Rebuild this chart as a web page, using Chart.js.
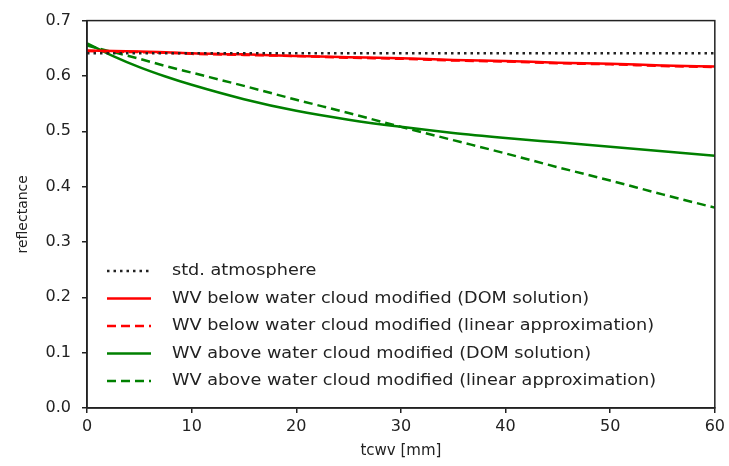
<!DOCTYPE html>
<html>
<head>
<meta charset="utf-8">
<script src="https://cdn.jsdelivr.net/npm/chart.js@4.4.1/dist/chart.umd.min.js"></script>
<style>
  html, body { margin: 0; padding: 0; background: #fff; }
  #wrap { width: 729px; height: 466px; }
</style>
</head>
<body>
<div id="wrap"><canvas id="reflChart"></canvas></div>
<script>
// water vapour column (x axis)
var tcwv = [0, 2.5, 5, 7.5, 10, 15, 20, 25, 30, 35, 40, 45, 50, 55, 60];

// reflectance values
var stdAtmosphere = [0.641, 0.641, 0.641, 0.641, 0.641, 0.641, 0.641, 0.641, 0.641, 0.641, 0.641, 0.641, 0.641, 0.641, 0.641];
var belowDom    = [0.646, 0.645, 0.644, 0.643, 0.641, 0.639, 0.636, 0.634, 0.632, 0.629, 0.627, 0.624, 0.622, 0.619, 0.617];
var belowLinear = [0.645, 0.644, 0.643, 0.642, 0.640, 0.638, 0.636, 0.633, 0.631, 0.628, 0.626, 0.623, 0.621, 0.618, 0.616];
var aboveDom    = [0.659, 0.636, 0.616, 0.599, 0.584, 0.558, 0.537, 0.521, 0.508, 0.497, 0.488, 0.480, 0.472, 0.464, 0.456];
var aboveLinear = [0.655, 0.643, 0.631, 0.618, 0.606, 0.582, 0.557, 0.533, 0.508, 0.484, 0.460, 0.435, 0.411, 0.386, 0.362];

var xTicks = [0, 10, 20, 30, 40, 50, 60];
var yTicks = [0.0, 0.1, 0.2, 0.3, 0.4, 0.5, 0.6, 0.7];

var labels = [
  'std. atmosphere',
  'WV below water cloud modified (DOM solution)',
  'WV below water cloud modified (linear approximation)',
  'WV above water cloud modified (DOM solution)',
  'WV above water cloud modified (linear approximation)'
];

function pts(ys) {
  var out = [];
  for (var i = 0; i < tcwv.length; i++) out.push({x: tcwv[i], y: ys[i]});
  return out;
}

var FONT = '"DejaVu Sans", Roboto, sans-serif';

// legend drawn inside the plot + frame on all four sides
var innerLegend = {
  id: 'innerLegend',
  afterDraw: function(chart) {
    var ctx = chart.ctx;
    var a = chart.chartArea;
    ctx.save();
    ctx.strokeStyle = '#222';
    ctx.lineWidth = 1.5;
    ctx.strokeRect(a.left, a.top, a.right - a.left, a.bottom - a.top);

    var x0 = a.left + 20, x1 = a.left + 64, tx = a.left + 85;
    var y = a.bottom - 137;
    chart.data.datasets.forEach(function(ds) {
      ctx.beginPath();
      ctx.strokeStyle = ds.borderColor;
      ctx.lineWidth = ds.borderWidth;
      ctx.setLineDash(ds.borderDash || []);
      ctx.moveTo(x0, y);
      ctx.lineTo(x1, y);
      ctx.stroke();
      ctx.setLineDash([]);
      // text is a bit wide in the original
      ctx.save();
      ctx.translate(tx, y);
      ctx.scale(1.07, 1);
      ctx.fillStyle = '#222';
      ctx.font = '16.5px ' + FONT;
      ctx.textBaseline = 'middle';
      ctx.fillText(ds.label, 0, 0);
      ctx.restore();
      y += 27.5;
    });
    ctx.restore();
  }
};

var ctx = document.getElementById('reflChart');
var chart = new Chart(ctx, {
  type: 'line',
  data: {
    datasets: [
      { label: labels[0], data: pts(stdAtmosphere), borderColor: '#222', borderWidth: 2.5, borderDash: [2.5, 4] },
      { label: labels[1], data: pts(belowDom), borderColor: '#ff0000', borderWidth: 2.5, borderDash: [] },
      { label: labels[2], data: pts(belowLinear), borderColor: '#ff0000', borderWidth: 2.5, borderDash: [9, 5] },
      { label: labels[3], data: pts(aboveDom), borderColor: '#008000', borderWidth: 2.5, borderDash: [] },
      { label: labels[4], data: pts(aboveLinear), borderColor: '#008000', borderWidth: 2.5, borderDash: [9, 5] }
    ]
  },
  options: {
    responsive: true,
    maintainAspectRatio: false,
    animation: false,
    layout: { padding: { top: 15, right: 12, left: 0, bottom: 0 } },
    elements: {
      point: { radius: 0 },
      line: { tension: 0, cubicInterpolationMode: 'monotone', fill: false }
    },
    plugins: {
      legend: { display: false },
      tooltip: { enabled: false }
    },
    scales: {
      x: {
        type: 'linear',
        min: 0, max: 60,
        afterBuildTicks: function(ax) { ax.ticks = xTicks.map(function(v) { return {value: v}; }); },
        afterFit: function(ax) { ax.height = 58; },
        grid: { drawOnChartArea: false, tickLength: 5, color: '#222', lineWidth: 1.5 },
        border: { color: '#222', width: 1.5 },
        ticks: { color: '#222', font: { family: FONT, size: 16 }, padding: 4, maxRotation: 0 },
        title: { display: true, text: 'tcwv [mm]', color: '#222', font: { family: FONT, size: 15 }, padding: { top: 0, bottom: 6 } }
      },
      y: {
        type: 'linear',
        min: 0, max: 0.7,
        afterBuildTicks: function(ax) { ax.ticks = yTicks.map(function(v) { return {value: v}; }); },
        afterFit: function(ax) { ax.width = 87; },
        grid: { drawOnChartArea: false, tickLength: 5, color: '#222', lineWidth: 1.5 },
        border: { color: '#222', width: 1.5 },
        ticks: {
          color: '#222', font: { family: FONT, size: 16 }, padding: 11,
          callback: function(v) { return Number(v).toFixed(1); }
        },
        title: { display: true, text: 'reflectance', color: '#222', font: { family: FONT, size: 14 }, padding: { top: 15, bottom: 0 } }
      }
    }
  },
  plugins: [innerLegend]
});
</script>
</body>
</html>
